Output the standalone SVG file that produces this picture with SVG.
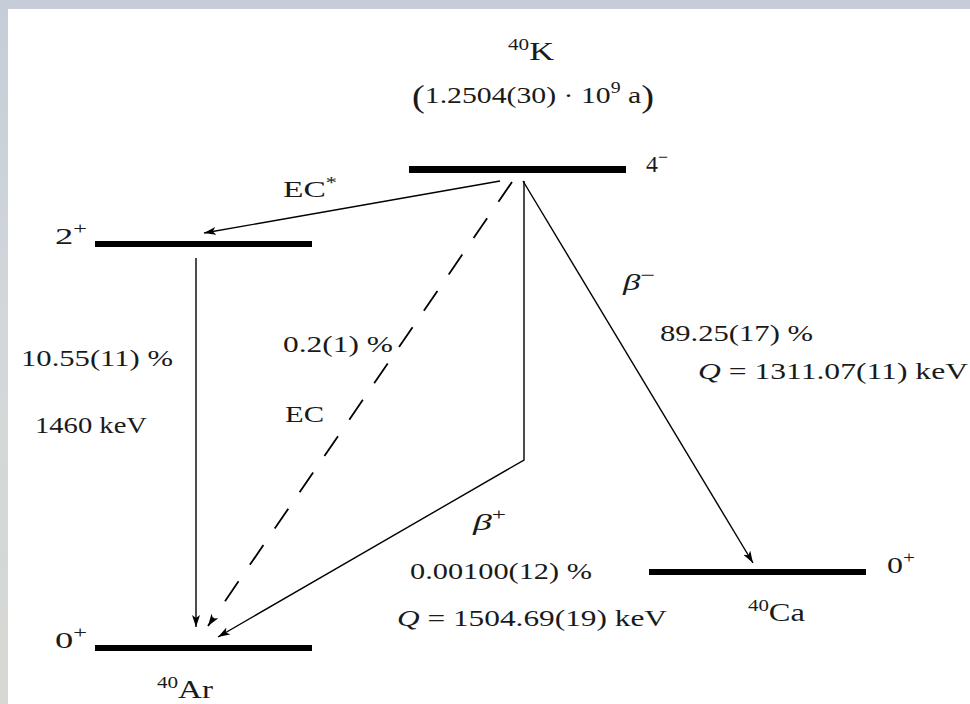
<svg xmlns="http://www.w3.org/2000/svg" width="970" height="704" viewBox="0 0 970 704">
<defs>
<linearGradient id="bg" x1="0" y1="0" x2="0" y2="1">
<stop offset="0" stop-color="#c6cdd8"/>
<stop offset="0.5" stop-color="#d2d8da"/>
<stop offset="1" stop-color="#d6d8d2"/>
</linearGradient>
<marker id="ah" markerUnits="userSpaceOnUse" markerWidth="14" markerHeight="10" refX="12" refY="4" orient="auto">
<path d="M0,0 L12,4 L0,8 L3,4 Z" fill="#000"/>
</marker>
<style>
text{font-family:"Liberation Serif","DejaVu Serif",serif;fill:#1a1a1a;font-size:24px}
.it{font-style:italic}
.s{font-size:16px}
.lvl{fill:#000}
.c{fill:none;stroke:#000;stroke-width:1.4}
.d{stroke-dasharray:24 20;stroke-width:1.8}
</style>
</defs>
<rect x="0" y="0" width="970" height="704" fill="url(#bg)"/>
<rect x="8" y="9" width="962" height="695" fill="#fff"/>

<g id="K40">
<rect class="lvl" x="409" y="166" width="217" height="7"/>
<text x="508" y="60" textLength="46" lengthAdjust="spacingAndGlyphs"><tspan class="s" dy="-10">40</tspan><tspan font-size="26" dy="10">K</tspan></text>
<text x="412" y="103" textLength="242" lengthAdjust="spacingAndGlyphs"><tspan font-size="31" dy="4">(</tspan><tspan dy="-4">1.2504(30) · 10</tspan><tspan class="s" dy="-10">9</tspan><tspan dy="10"> a</tspan><tspan font-size="31" dy="4">)</tspan></text>
<text x="646" y="172" textLength="22" lengthAdjust="spacingAndGlyphs">4<tspan font-size="18" dy="-9">−</tspan></text>
</g>

<g id="Ar40excited">
<rect class="lvl" x="95" y="241" width="217" height="6"/>
<text x="55" y="244" textLength="32" lengthAdjust="spacingAndGlyphs">2<tspan class="s" dy="-10">+</tspan></text>
</g>

<g id="Ar40">
<rect class="lvl" x="95" y="645" width="217" height="6"/>
<text x="55" y="648" textLength="32" lengthAdjust="spacingAndGlyphs">0<tspan class="s" dy="-10">+</tspan></text>
<text x="157" y="698" textLength="56" lengthAdjust="spacingAndGlyphs"><tspan class="s" dy="-10">40</tspan><tspan font-size="25" dy="10">Ar</tspan></text>
</g>

<g id="Ca40">
<rect class="lvl" x="649" y="569" width="217" height="6"/>
<text x="887" y="573" textLength="28" lengthAdjust="spacingAndGlyphs">0<tspan class="s" dy="-10">+</tspan></text>
<text x="748" y="621" textLength="57" lengthAdjust="spacingAndGlyphs"><tspan class="s" dy="-10">40</tspan><tspan font-size="25" dy="10">Ca</tspan></text>
</g>

<g id="connectors">
<path class="c" d="M500,181 L204,233" marker-end="url(#ah)"/>
<path class="c" d="M196,258 L196,627" marker-end="url(#ah)"/>
<path class="c d" d="M512,182 L208,626" marker-end="url(#ah)"/>
<path class="c" d="M524,181 L524,460 L218,637" marker-end="url(#ah)"/>
<path class="c" d="M523,181 L753,563" marker-end="url(#ah)"/>
</g>

<g id="labels">
<text x="283" y="197" textLength="54" lengthAdjust="spacingAndGlyphs">EC<tspan class="s" dy="-9">*</tspan></text>
<text x="21" y="366" textLength="152" lengthAdjust="spacingAndGlyphs">10.55(11) %</text>
<text x="35" y="433" textLength="112" lengthAdjust="spacingAndGlyphs">1460 keV</text>
<text x="283" y="352" textLength="110" lengthAdjust="spacingAndGlyphs">0.2(1) %</text>
<text x="285" y="422" textLength="39" lengthAdjust="spacingAndGlyphs">EC</text>
<text x="623" y="290" textLength="32" lengthAdjust="spacingAndGlyphs"><tspan class="it">β</tspan><tspan font-size="18" dy="-9">−</tspan></text>
<text x="660" y="341" textLength="153" lengthAdjust="spacingAndGlyphs">89.25(17) %</text>
<text x="698" y="379" textLength="270" lengthAdjust="spacingAndGlyphs"><tspan class="it">Q</tspan> = 1311.07(11) keV</text>
<text x="473" y="530" textLength="33" lengthAdjust="spacingAndGlyphs"><tspan class="it">β</tspan><tspan class="s" dy="-10">+</tspan></text>
<text x="410" y="579" textLength="182" lengthAdjust="spacingAndGlyphs">0.00100(12) %</text>
<text x="397" y="626" textLength="270" lengthAdjust="spacingAndGlyphs"><tspan class="it">Q</tspan> = 1504.69(19) keV</text>
</g>
</svg>
